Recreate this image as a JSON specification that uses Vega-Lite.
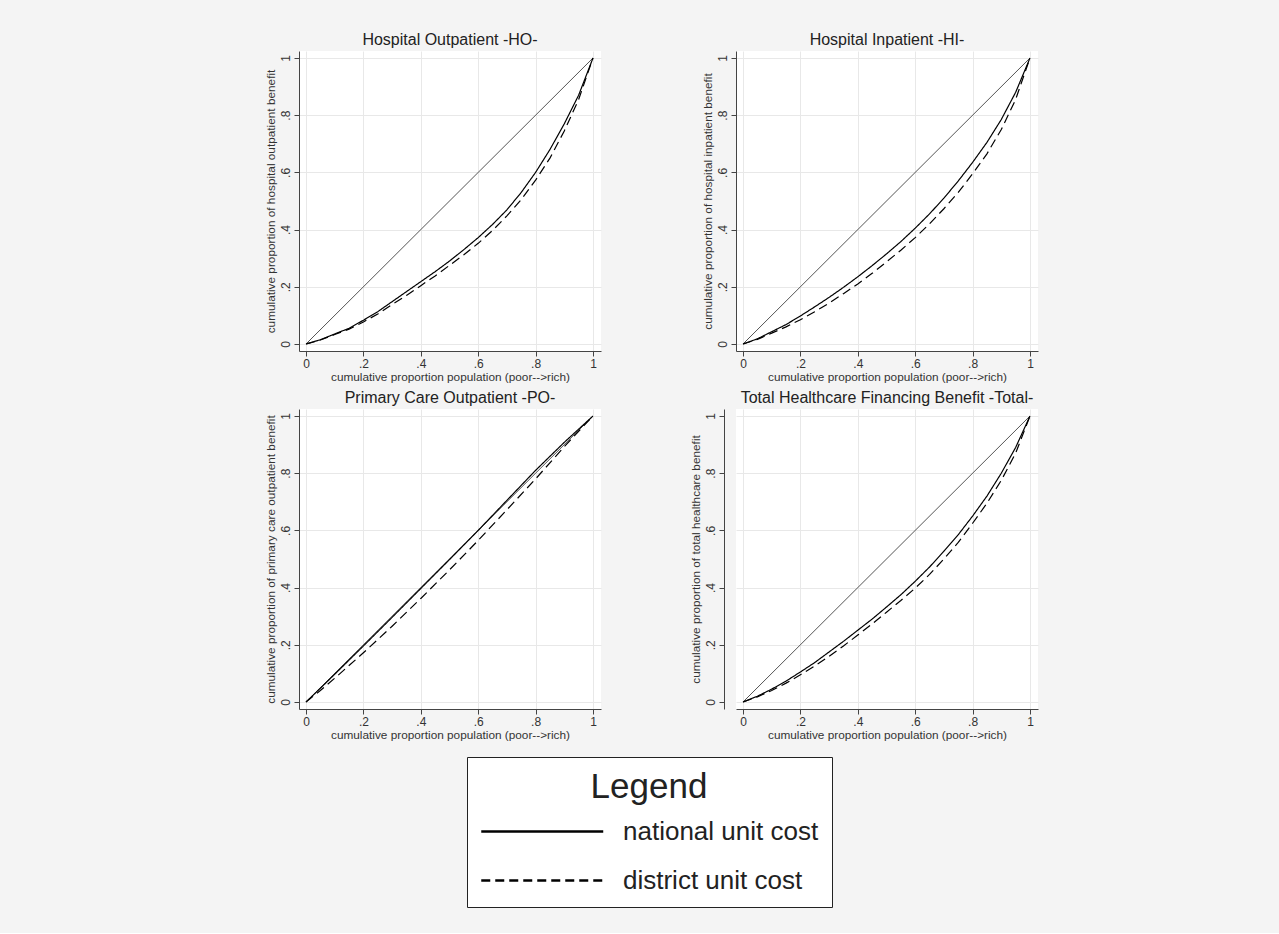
{
  "$schema": "https://vega.github.io/schema/vega-lite/v6.json",
  "background": "#f4f4f4",
  "padding": {"left": 264, "top": 32, "right": 242, "bottom": 25},
  "config": {
    "font": "Liberation Sans",
    "view": {"fill": "white", "stroke": null},
    "axis": {"grid": true, "gridColor": "#e8e8e8", "gridWidth": 1, "domainColor": "#444", "tickColor": "#444", "labelColor": "#333", "titleColor": "#333", "labelFontSize": 12, "titleFontSize": 11.8, "titleFontWeight": "normal", "tickSize": 5, "labelFlush": false, "labelPadding": 2},
    "axisY": {"labelAngle": 270, "titlePadding": 3},
    "axisX": {"titlePadding": 2},
    "title": {"fontSize": 16, "fontWeight": "normal", "color": "#222", "offset": 3},
    "legend": {"orient": "none", "legendX": 168, "legendY": 706, "titleFontSize": 35, "titleFontWeight": "normal", "titleColor": "#222", "titleAnchor": "middle", "labelFontSize": 26, "labelLimit": 400, "labelColor": "#222", "strokeColor": "#222", "fillColor": "white", "padding": 13, "symbolType": "M-1,0H8.96", "symbolSize": 600, "symbolStrokeWidth": 2.5, "symbolStrokeColor": "black", "labelOffset": 116, "rowPadding": 22, "titlePadding": 13}
  },
  "datasets": {
    "diag": [{"x": 0, "y": 0}, {"x": 1, "y": 1}],
    "curves": [
      {"panel": "HO", "series": "national unit cost", "x": 0, "y": 0},
      {"panel": "HO", "series": "national unit cost", "x": 0.05, "y": 0.015},
      {"panel": "HO", "series": "national unit cost", "x": 0.1, "y": 0.035},
      {"panel": "HO", "series": "national unit cost", "x": 0.15, "y": 0.055},
      {"panel": "HO", "series": "national unit cost", "x": 0.2, "y": 0.083},
      {"panel": "HO", "series": "national unit cost", "x": 0.25, "y": 0.113},
      {"panel": "HO", "series": "national unit cost", "x": 0.3, "y": 0.148},
      {"panel": "HO", "series": "national unit cost", "x": 0.35, "y": 0.183},
      {"panel": "HO", "series": "national unit cost", "x": 0.4, "y": 0.218},
      {"panel": "HO", "series": "national unit cost", "x": 0.45, "y": 0.253},
      {"panel": "HO", "series": "national unit cost", "x": 0.5, "y": 0.29},
      {"panel": "HO", "series": "national unit cost", "x": 0.55, "y": 0.33},
      {"panel": "HO", "series": "national unit cost", "x": 0.6, "y": 0.372},
      {"panel": "HO", "series": "national unit cost", "x": 0.65, "y": 0.418},
      {"panel": "HO", "series": "national unit cost", "x": 0.7, "y": 0.469},
      {"panel": "HO", "series": "national unit cost", "x": 0.75, "y": 0.53},
      {"panel": "HO", "series": "national unit cost", "x": 0.8, "y": 0.6},
      {"panel": "HO", "series": "national unit cost", "x": 0.85, "y": 0.68},
      {"panel": "HO", "series": "national unit cost", "x": 0.9, "y": 0.77},
      {"panel": "HO", "series": "national unit cost", "x": 0.95, "y": 0.87},
      {"panel": "HO", "series": "national unit cost", "x": 1, "y": 1},
      {"panel": "HO", "series": "district unit cost", "x": 0, "y": 0},
      {"panel": "HO", "series": "district unit cost", "x": 0.05, "y": 0.014},
      {"panel": "HO", "series": "district unit cost", "x": 0.1, "y": 0.033},
      {"panel": "HO", "series": "district unit cost", "x": 0.15, "y": 0.052},
      {"panel": "HO", "series": "district unit cost", "x": 0.2, "y": 0.077},
      {"panel": "HO", "series": "district unit cost", "x": 0.25, "y": 0.105},
      {"panel": "HO", "series": "district unit cost", "x": 0.3, "y": 0.138},
      {"panel": "HO", "series": "district unit cost", "x": 0.35, "y": 0.17},
      {"panel": "HO", "series": "district unit cost", "x": 0.4, "y": 0.204},
      {"panel": "HO", "series": "district unit cost", "x": 0.45, "y": 0.238},
      {"panel": "HO", "series": "district unit cost", "x": 0.5, "y": 0.275},
      {"panel": "HO", "series": "district unit cost", "x": 0.55, "y": 0.312},
      {"panel": "HO", "series": "district unit cost", "x": 0.6, "y": 0.352},
      {"panel": "HO", "series": "district unit cost", "x": 0.65, "y": 0.397},
      {"panel": "HO", "series": "district unit cost", "x": 0.7, "y": 0.448},
      {"panel": "HO", "series": "district unit cost", "x": 0.75, "y": 0.505},
      {"panel": "HO", "series": "district unit cost", "x": 0.8, "y": 0.573},
      {"panel": "HO", "series": "district unit cost", "x": 0.85, "y": 0.65},
      {"panel": "HO", "series": "district unit cost", "x": 0.9, "y": 0.745},
      {"panel": "HO", "series": "district unit cost", "x": 0.95, "y": 0.855},
      {"panel": "HO", "series": "district unit cost", "x": 1, "y": 1},
      {"panel": "HI", "series": "national unit cost", "x": 0, "y": 0},
      {"panel": "HI", "series": "national unit cost", "x": 0.05, "y": 0.018},
      {"panel": "HI", "series": "national unit cost", "x": 0.1, "y": 0.043},
      {"panel": "HI", "series": "national unit cost", "x": 0.15, "y": 0.068},
      {"panel": "HI", "series": "national unit cost", "x": 0.2, "y": 0.098},
      {"panel": "HI", "series": "national unit cost", "x": 0.25, "y": 0.13},
      {"panel": "HI", "series": "national unit cost", "x": 0.3, "y": 0.163},
      {"panel": "HI", "series": "national unit cost", "x": 0.35, "y": 0.198},
      {"panel": "HI", "series": "national unit cost", "x": 0.4, "y": 0.235},
      {"panel": "HI", "series": "national unit cost", "x": 0.45, "y": 0.274},
      {"panel": "HI", "series": "national unit cost", "x": 0.5, "y": 0.315},
      {"panel": "HI", "series": "national unit cost", "x": 0.55, "y": 0.358},
      {"panel": "HI", "series": "national unit cost", "x": 0.6, "y": 0.405},
      {"panel": "HI", "series": "national unit cost", "x": 0.65, "y": 0.455},
      {"panel": "HI", "series": "national unit cost", "x": 0.7, "y": 0.51},
      {"panel": "HI", "series": "national unit cost", "x": 0.75, "y": 0.57},
      {"panel": "HI", "series": "national unit cost", "x": 0.8, "y": 0.635},
      {"panel": "HI", "series": "national unit cost", "x": 0.85, "y": 0.705},
      {"panel": "HI", "series": "national unit cost", "x": 0.9, "y": 0.785},
      {"panel": "HI", "series": "national unit cost", "x": 0.95, "y": 0.88},
      {"panel": "HI", "series": "national unit cost", "x": 1, "y": 1},
      {"panel": "HI", "series": "district unit cost", "x": 0, "y": 0},
      {"panel": "HI", "series": "district unit cost", "x": 0.05, "y": 0.016},
      {"panel": "HI", "series": "district unit cost", "x": 0.1, "y": 0.038},
      {"panel": "HI", "series": "district unit cost", "x": 0.15, "y": 0.06},
      {"panel": "HI", "series": "district unit cost", "x": 0.2, "y": 0.085},
      {"panel": "HI", "series": "district unit cost", "x": 0.25, "y": 0.113},
      {"panel": "HI", "series": "district unit cost", "x": 0.3, "y": 0.143},
      {"panel": "HI", "series": "district unit cost", "x": 0.35, "y": 0.176},
      {"panel": "HI", "series": "district unit cost", "x": 0.4, "y": 0.21},
      {"panel": "HI", "series": "district unit cost", "x": 0.45, "y": 0.247},
      {"panel": "HI", "series": "district unit cost", "x": 0.5, "y": 0.287},
      {"panel": "HI", "series": "district unit cost", "x": 0.55, "y": 0.328},
      {"panel": "HI", "series": "district unit cost", "x": 0.6, "y": 0.372},
      {"panel": "HI", "series": "district unit cost", "x": 0.65, "y": 0.42},
      {"panel": "HI", "series": "district unit cost", "x": 0.7, "y": 0.473},
      {"panel": "HI", "series": "district unit cost", "x": 0.75, "y": 0.53},
      {"panel": "HI", "series": "district unit cost", "x": 0.8, "y": 0.595},
      {"panel": "HI", "series": "district unit cost", "x": 0.85, "y": 0.665},
      {"panel": "HI", "series": "district unit cost", "x": 0.9, "y": 0.75},
      {"panel": "HI", "series": "district unit cost", "x": 0.95, "y": 0.855},
      {"panel": "HI", "series": "district unit cost", "x": 1, "y": 1},
      {"panel": "PO", "series": "national unit cost", "x": 0, "y": 0},
      {"panel": "PO", "series": "national unit cost", "x": 0.05, "y": 0.048},
      {"panel": "PO", "series": "national unit cost", "x": 0.1, "y": 0.097},
      {"panel": "PO", "series": "national unit cost", "x": 0.2, "y": 0.196},
      {"panel": "PO", "series": "national unit cost", "x": 0.3, "y": 0.296},
      {"panel": "PO", "series": "national unit cost", "x": 0.4, "y": 0.397},
      {"panel": "PO", "series": "national unit cost", "x": 0.5, "y": 0.498},
      {"panel": "PO", "series": "national unit cost", "x": 0.6, "y": 0.6},
      {"panel": "PO", "series": "national unit cost", "x": 0.7, "y": 0.705},
      {"panel": "PO", "series": "national unit cost", "x": 0.8, "y": 0.81},
      {"panel": "PO", "series": "national unit cost", "x": 0.9, "y": 0.908},
      {"panel": "PO", "series": "national unit cost", "x": 1, "y": 1},
      {"panel": "PO", "series": "district unit cost", "x": 0, "y": 0},
      {"panel": "PO", "series": "district unit cost", "x": 0.05, "y": 0.04},
      {"panel": "PO", "series": "district unit cost", "x": 0.1, "y": 0.083},
      {"panel": "PO", "series": "district unit cost", "x": 0.2, "y": 0.172},
      {"panel": "PO", "series": "district unit cost", "x": 0.3, "y": 0.265},
      {"panel": "PO", "series": "district unit cost", "x": 0.4, "y": 0.362},
      {"panel": "PO", "series": "district unit cost", "x": 0.5, "y": 0.462},
      {"panel": "PO", "series": "district unit cost", "x": 0.6, "y": 0.565},
      {"panel": "PO", "series": "district unit cost", "x": 0.7, "y": 0.672},
      {"panel": "PO", "series": "district unit cost", "x": 0.8, "y": 0.78},
      {"panel": "PO", "series": "district unit cost", "x": 0.9, "y": 0.893},
      {"panel": "PO", "series": "district unit cost", "x": 1, "y": 1},
      {"panel": "TOT", "series": "national unit cost", "x": 0, "y": 0},
      {"panel": "TOT", "series": "national unit cost", "x": 0.05, "y": 0.02},
      {"panel": "TOT", "series": "national unit cost", "x": 0.1, "y": 0.045},
      {"panel": "TOT", "series": "national unit cost", "x": 0.15, "y": 0.073},
      {"panel": "TOT", "series": "national unit cost", "x": 0.2, "y": 0.105},
      {"panel": "TOT", "series": "national unit cost", "x": 0.25, "y": 0.138},
      {"panel": "TOT", "series": "national unit cost", "x": 0.3, "y": 0.175},
      {"panel": "TOT", "series": "national unit cost", "x": 0.35, "y": 0.212},
      {"panel": "TOT", "series": "national unit cost", "x": 0.4, "y": 0.251},
      {"panel": "TOT", "series": "national unit cost", "x": 0.45, "y": 0.29},
      {"panel": "TOT", "series": "national unit cost", "x": 0.5, "y": 0.332},
      {"panel": "TOT", "series": "national unit cost", "x": 0.55, "y": 0.375},
      {"panel": "TOT", "series": "national unit cost", "x": 0.6, "y": 0.422},
      {"panel": "TOT", "series": "national unit cost", "x": 0.65, "y": 0.472},
      {"panel": "TOT", "series": "national unit cost", "x": 0.7, "y": 0.527},
      {"panel": "TOT", "series": "national unit cost", "x": 0.75, "y": 0.585},
      {"panel": "TOT", "series": "national unit cost", "x": 0.8, "y": 0.65},
      {"panel": "TOT", "series": "national unit cost", "x": 0.85, "y": 0.72},
      {"panel": "TOT", "series": "national unit cost", "x": 0.9, "y": 0.8},
      {"panel": "TOT", "series": "national unit cost", "x": 0.95, "y": 0.89},
      {"panel": "TOT", "series": "national unit cost", "x": 1, "y": 1},
      {"panel": "TOT", "series": "district unit cost", "x": 0, "y": 0},
      {"panel": "TOT", "series": "district unit cost", "x": 0.05, "y": 0.018},
      {"panel": "TOT", "series": "district unit cost", "x": 0.1, "y": 0.04},
      {"panel": "TOT", "series": "district unit cost", "x": 0.15, "y": 0.066},
      {"panel": "TOT", "series": "district unit cost", "x": 0.2, "y": 0.095},
      {"panel": "TOT", "series": "district unit cost", "x": 0.25, "y": 0.126},
      {"panel": "TOT", "series": "district unit cost", "x": 0.3, "y": 0.16},
      {"panel": "TOT", "series": "district unit cost", "x": 0.35, "y": 0.196},
      {"panel": "TOT", "series": "district unit cost", "x": 0.4, "y": 0.234},
      {"panel": "TOT", "series": "district unit cost", "x": 0.45, "y": 0.273},
      {"panel": "TOT", "series": "district unit cost", "x": 0.5, "y": 0.314},
      {"panel": "TOT", "series": "district unit cost", "x": 0.55, "y": 0.355},
      {"panel": "TOT", "series": "district unit cost", "x": 0.6, "y": 0.398},
      {"panel": "TOT", "series": "district unit cost", "x": 0.65, "y": 0.446},
      {"panel": "TOT", "series": "district unit cost", "x": 0.7, "y": 0.5},
      {"panel": "TOT", "series": "district unit cost", "x": 0.75, "y": 0.558},
      {"panel": "TOT", "series": "district unit cost", "x": 0.8, "y": 0.625},
      {"panel": "TOT", "series": "district unit cost", "x": 0.85, "y": 0.695},
      {"panel": "TOT", "series": "district unit cost", "x": 0.9, "y": 0.775},
      {"panel": "TOT", "series": "district unit cost", "x": 0.95, "y": 0.87},
      {"panel": "TOT", "series": "district unit cost", "x": 1, "y": 1}
    ]
  },
  "columns": 2,
  "spacing": {"row": 58, "column": 135},
  "bounds": "flush",
  "resolve": {"scale": {"strokeDash": "shared"}, "legend": {"strokeDash": "shared"}},
  "concat": [
    {
      "title": "Hospital Outpatient -HO-",
      "width": 302, "height": 300,
      "encoding": {
        "x": {"field": "x", "type": "quantitative", "scale": {"domain": [-0.0244, 1.0279], "nice": false, "zero": false}, "axis": {"values": [0, 0.2, 0.4, 0.6, 0.8, 1], "labelExpr": "datum.value == 0 ? '0' : datum.value == 1 ? '1' : replace(format(datum.value, '.1f'), '0.', '.')", "title": "cumulative proportion population (poor-->rich)"}},
        "y": {"field": "y", "type": "quantitative", "scale": {"domain": [-0.0245, 1.0245], "nice": false, "zero": false}, "axis": {"values": [0, 0.2, 0.4, 0.6, 0.8, 1], "labelExpr": "datum.value == 0 ? '0' : datum.value == 1 ? '1' : replace(format(datum.value, '.1f'), '0.', '.')", "title": "cumulative proportion of hospital outpatient benefit"}}
      },
      "layer": [
        {"data": {"name": "diag"}, "mark": {"type": "line", "color": "#555", "strokeWidth": 1}},
        {"data": {"name": "curves"}, "transform": [{"filter": "datum.panel === 'HO'"}], "mark": {"type": "line", "color": "black", "strokeWidth": 1.2},
         "encoding": {"strokeDash": {"field": "series", "type": "nominal", "scale": {"domain": ["national unit cost", "district unit cost"], "range": [[1, 0], [9, 5]]}, "legend": {"title": "Legend"}}}}
      ]
    },
    {
      "title": "Hospital Inpatient -HI-",
      "width": 302, "height": 300,
      "encoding": {
        "x": {"field": "x", "type": "quantitative", "scale": {"domain": [-0.0244, 1.0279], "nice": false, "zero": false}, "axis": {"values": [0, 0.2, 0.4, 0.6, 0.8, 1], "labelExpr": "datum.value == 0 ? '0' : datum.value == 1 ? '1' : replace(format(datum.value, '.1f'), '0.', '.')", "title": "cumulative proportion population (poor-->rich)"}},
        "y": {"field": "y", "type": "quantitative", "scale": {"domain": [-0.0245, 1.0245], "nice": false, "zero": false}, "axis": {"values": [0, 0.2, 0.4, 0.6, 0.8, 1], "labelExpr": "datum.value == 0 ? '0' : datum.value == 1 ? '1' : replace(format(datum.value, '.1f'), '0.', '.')", "title": "cumulative proportion of hospital inpatient benefit"}}
      },
      "layer": [
        {"data": {"name": "diag"}, "mark": {"type": "line", "color": "#555", "strokeWidth": 1}},
        {"data": {"name": "curves"}, "transform": [{"filter": "datum.panel === 'HI'"}], "mark": {"type": "line", "color": "black", "strokeWidth": 1.2},
         "encoding": {"strokeDash": {"field": "series", "type": "nominal", "scale": {"domain": ["national unit cost", "district unit cost"], "range": [[1, 0], [9, 5]]}, "legend": {"title": "Legend"}}}}
      ]
    },
    {
      "title": "Primary Care Outpatient -PO-",
      "width": 302, "height": 300,
      "encoding": {
        "x": {"field": "x", "type": "quantitative", "scale": {"domain": [-0.0244, 1.0279], "nice": false, "zero": false}, "axis": {"values": [0, 0.2, 0.4, 0.6, 0.8, 1], "labelExpr": "datum.value == 0 ? '0' : datum.value == 1 ? '1' : replace(format(datum.value, '.1f'), '0.', '.')", "title": "cumulative proportion population (poor-->rich)"}},
        "y": {"field": "y", "type": "quantitative", "scale": {"domain": [-0.0245, 1.0245], "nice": false, "zero": false}, "axis": {"values": [0, 0.2, 0.4, 0.6, 0.8, 1], "labelExpr": "datum.value == 0 ? '0' : datum.value == 1 ? '1' : replace(format(datum.value, '.1f'), '0.', '.')", "title": "cumulative proportion of primary care outpatient benefit"}}
      },
      "layer": [
        {"data": {"name": "diag"}, "mark": {"type": "line", "color": "#555", "strokeWidth": 1}},
        {"data": {"name": "curves"}, "transform": [{"filter": "datum.panel === 'PO'"}], "mark": {"type": "line", "color": "black", "strokeWidth": 1.2},
         "encoding": {"strokeDash": {"field": "series", "type": "nominal", "scale": {"domain": ["national unit cost", "district unit cost"], "range": [[1, 0], [9, 5]]}, "legend": {"title": "Legend"}}}}
      ]
    },
    {
      "title": "Total Healthcare Financing Benefit -Total-",
      "width": 302, "height": 300,
      "encoding": {
        "x": {"field": "x", "type": "quantitative", "scale": {"domain": [-0.0244, 1.0279], "nice": false, "zero": false}, "axis": {"values": [0, 0.2, 0.4, 0.6, 0.8, 1], "labelExpr": "datum.value == 0 ? '0' : datum.value == 1 ? '1' : replace(format(datum.value, '.1f'), '0.', '.')", "title": "cumulative proportion population (poor-->rich)"}},
        "y": {"field": "y", "type": "quantitative", "scale": {"domain": [-0.0245, 1.0245], "nice": false, "zero": false}, "axis": {"offset": 12, "values": [0, 0.2, 0.4, 0.6, 0.8, 1], "labelExpr": "datum.value == 0 ? '0' : datum.value == 1 ? '1' : replace(format(datum.value, '.1f'), '0.', '.')", "title": "cumulative proportion of total healthcare benefit"}}
      },
      "layer": [
        {"data": {"name": "diag"}, "mark": {"type": "line", "color": "#555", "strokeWidth": 1}},
        {"data": {"name": "curves"}, "transform": [{"filter": "datum.panel === 'TOT'"}], "mark": {"type": "line", "color": "black", "strokeWidth": 1.2},
         "encoding": {"strokeDash": {"field": "series", "type": "nominal", "scale": {"domain": ["national unit cost", "district unit cost"], "range": [[1, 0], [9, 5]]}, "legend": {"title": "Legend"}}}}
      ]
    }
  ]
}
